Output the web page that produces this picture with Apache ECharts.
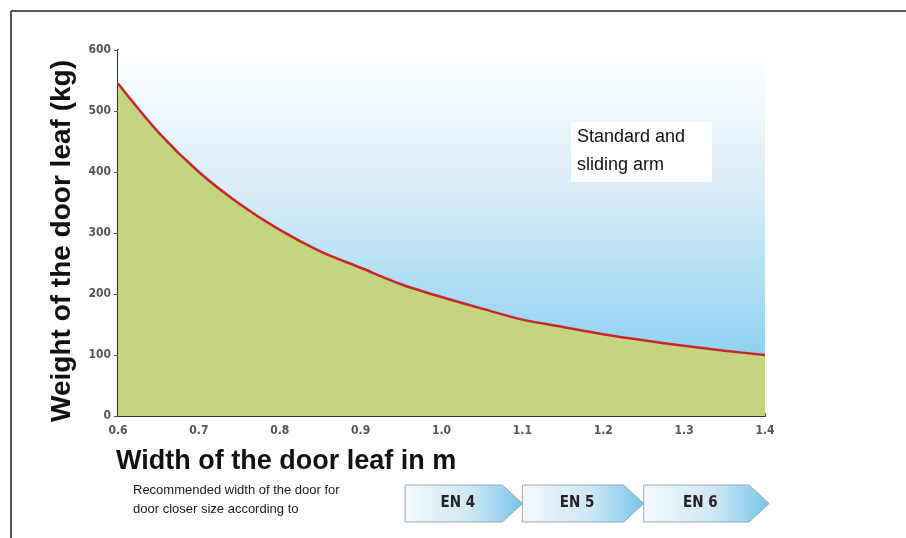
<!DOCTYPE html>
<html>
<head>
<meta charset="utf-8">
<script src="https://cdn.jsdelivr.net/npm/echarts@6/dist/echarts.min.js"></script>
<style>
  html, body { margin: 0; padding: 0; background: #fff; }
  #chart { width: 906px; height: 538px; }
</style>
</head>
<body>
<div id="chart"></div>
<script>
// door width (m) and max door weight (kg)
var widths = [0.6, 0.65, 0.7, 0.75, 0.8, 0.85, 0.9, 0.95, 1.0, 1.05, 1.1, 1.15, 1.2, 1.25, 1.3, 1.35, 1.4];
var weights = [545, 465, 400, 348, 305, 270, 243, 216, 195, 176, 158, 146, 134, 124, 115, 107, 100];
var yTicks = [0, 100, 200, 300, 400, 500, 600];
// EN size bands along the width axis
var enLabels = ['EN 4', 'EN 5', 'EN 6'];
var enFrom = [0.955, 1.1, 1.25];
var enTo = [1.1, 1.25, 1.405];

var narrow = "'DejaVu Sans Condensed', 'DejaVu Sans', sans-serif";

var myChart = echarts.init(document.getElementById('chart'));

var lineData = [];
var topData = [];
for (var i = 0; i < widths.length; i++) {
    lineData.push([widths[i], weights[i]]);
    topData.push([widths[i], yTicks[yTicks.length - 1]]);
}

var option = {
    backgroundColor: '#fff',
    animation: false,
    grid: { left: 118, right: 141, top: 50, bottom: 122 },
    xAxis: {
        type: 'value',
        min: 0.6, max: 1.4, interval: 0.1,
        name: 'Width of the door leaf in m',
        nameLocation: 'start',
        nameGap: 0,
        nameTextStyle: {
            fontFamily: 'Liberation Sans', fontWeight: 'bold', fontSize: 27, color: '#111',
            align: 'left', verticalAlign: 'top', padding: [32, 0, 0, -2]
        },
        axisLine: { lineStyle: { color: '#333', width: 2 } },
        axisTick: { show: true, inside: true, length: 3, lineStyle: { color: '#555' } },
        splitLine: { show: false },
        axisLabel: {
            color: '#555', fontFamily: narrow, fontWeight: 'bold', fontSize: 12, margin: 9,
            formatter: function (v) { return v.toFixed(1); }
        }
    },
    yAxis: {
        type: 'value',
        min: 0, max: 600, interval: 100,
        name: 'Weight of the door leaf (kg)',
        nameLocation: 'middle',
        nameGap: 42,
        nameRotate: 90,
        nameTextStyle: {
            fontFamily: 'Liberation Sans', fontWeight: 'bold', fontSize: 28, color: '#111',
            padding: [0, 16, 0, 0]
        },
        axisLine: { show: true, lineStyle: { color: '#333', width: 2 } },
        axisTick: { show: true, length: 4, lineStyle: { color: '#555' } },
        splitLine: { show: false },
        axisLabel: { color: '#555', fontFamily: narrow, fontWeight: 'bold', fontSize: 12, margin: 7 }
    },
    series: [
        {
            name: 'sky',
            type: 'line',
            data: topData,
            symbol: 'none',
            silent: true,
            lineStyle: { width: 0 },
            areaStyle: {
                opacity: 1,
                color: new echarts.graphic.LinearGradient(0, 0, 0, 1, [
                    { offset: 0, color: '#ffffff' },
                    { offset: 0.4, color: '#d6ecf8' },
                    { offset: 0.85, color: '#8dd0ef' },
                    { offset: 1, color: '#86cdee' }
                ])
            },
            z: 1
        },
        {
            name: 'weight',
            type: 'line',
            data: lineData,
            smooth: 0.3,
            symbol: 'none',
            lineStyle: { color: '#c8262c', width: 2.5 },
            areaStyle: { color: '#c5d57f', opacity: 1 },
            z: 3
        }
    ],
    graphic: [
        {
            type: 'line',
            shape: { x1: 11, y1: 11, x2: 906, y2: 11 },
            style: { stroke: '#222', lineWidth: 1.5 }
        },
        {
            type: 'line',
            shape: { x1: 11, y1: 11, x2: 11, y2: 538 },
            style: { stroke: '#222', lineWidth: 1.5 }
        },
        {
            type: 'rect',
            shape: { x: 571, y: 122, width: 141, height: 60 },
            style: { fill: '#fff' },
            z: 10
        },
        {
            type: 'text',
            x: 577, y: 123,
            style: {
                text: 'Standard and\nsliding arm',
                fontFamily: 'Liberation Sans', fontSize: 18, lineHeight: 28, fill: '#111'
            },
            z: 11
        },
        {
            type: 'text',
            x: 133, y: 481,
            style: {
                text: 'Recommended width of the door for\ndoor closer size according to',
                fontFamily: 'Liberation Sans', fontSize: 13, lineHeight: 19, fill: '#1a1a1a'
            }
        }
    ]
};

myChart.setOption(option);

// EN arrows placed by the width axis
var arrows = [];
var yTop = 485, yBot = 522, tip = 20;
for (var k = 0; k < enLabels.length; k++) {
    var x0 = myChart.convertToPixel({ gridIndex: 0 }, [enFrom[k], 0])[0];
    var x1 = myChart.convertToPixel({ gridIndex: 0 }, [enTo[k], 0])[0];
    var ym = (yTop + yBot) / 2;
    arrows.push({
        type: 'polygon',
        shape: { points: [[x0, yTop], [x1 - tip, yTop], [x1, ym], [x1 - tip, yBot], [x0, yBot]] },
        style: {
            fill: new echarts.graphic.LinearGradient(0, 0, 1, 0, [
                { offset: 0, color: '#f4f9fc' },
                { offset: 0.55, color: '#cfe8f5' },
                { offset: 1, color: '#78c5ea' }
            ]),
            stroke: '#9aa8b0', lineWidth: 1
        },
        z: 5 + k
    });
    arrows.push({
        type: 'text',
        x: (x0 + x1 - tip) / 2 + 4, y: ym,
        style: {
            text: enLabels[k], align: 'center', verticalAlign: 'middle',
            fontFamily: narrow, fontWeight: 'bold', fontSize: 15, fill: '#222'
        },
        z: 9
    });
}
myChart.setOption({ graphic: option.graphic.concat(arrows) });
</script>
</body>
</html>
